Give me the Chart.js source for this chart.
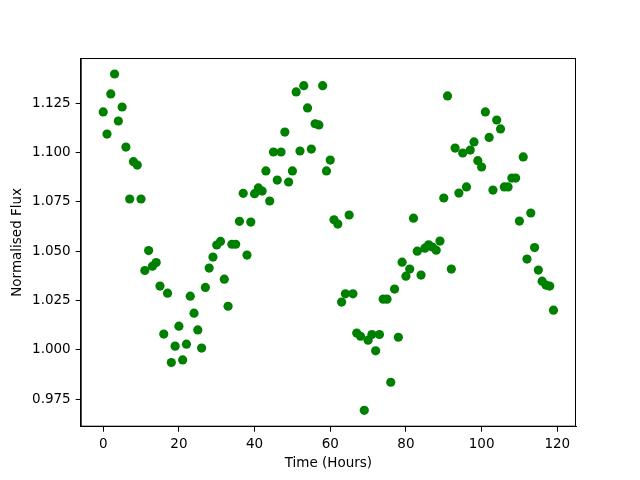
<!DOCTYPE html>
<html>
<head>
<meta charset="utf-8">
<script src="https://cdn.jsdelivr.net/npm/chart.js@4.4.1/dist/chart.umd.min.js"></script>
<style>
  html, body { margin: 0; padding: 0; background: #fff; }
  canvas { display: block; }
</style>
</head>
<body>
<canvas id="fluxChart" width="640" height="480"></canvas>
<script>
// hours since start
const hours = [
    0, 1, 2, 3, 4, 5, 6, 7, 8, 9, 10, 11, 12, 13, 14, 15, 16, 17, 18, 19,
    20, 21, 22, 23, 24, 25, 26, 27, 28, 29, 30, 31, 32, 33, 34, 35, 36, 37, 38, 39,
    40, 41, 42, 43, 44, 45, 46, 47, 48, 49, 50, 51, 52, 53, 54, 55, 56, 57, 58, 59,
    60, 61, 62, 63, 64, 65, 66, 67, 68, 69, 70, 71, 72, 73, 74, 75, 76, 77, 78, 79,
    80, 81, 82, 83, 84, 85, 86, 87, 88, 89, 90, 91, 92, 93, 94, 95, 96, 97, 98, 99,
    100, 101, 102, 103, 104, 105, 106, 107, 108, 109, 110, 111, 112, 113, 114, 115, 116, 117, 118, 119
];

// normalised flux
const flux = [
    1.1205, 1.1093, 1.1296, 1.1397, 1.1159, 1.1230, 1.1027, 1.0764, 1.0953, 1.0936,
    1.0764, 1.0402, 1.0503, 1.0424, 1.0442, 1.0323, 1.0080, 1.0287, 0.9936, 1.0019,
    1.0120, 0.9949, 1.0029, 1.0272, 1.0186, 1.0101, 1.0009, 1.0316, 1.0414, 1.0470,
    1.0531, 1.0549, 1.0358, 1.0221, 1.0535, 1.0535, 1.0651, 1.0793, 1.0480, 1.0647,
    1.0791, 1.0820, 1.0804, 1.0906, 1.0754, 1.1002, 1.0860, 1.1002, 1.1103, 1.0850,
    1.0906, 1.1306, 1.1007, 1.1338, 1.1225, 1.1017, 1.1145, 1.1139, 1.1338, 1.0906,
    1.0961, 1.0659, 1.0637, 1.0242, 1.0284, 1.0683, 1.0284, 1.0085, 1.0069, 0.9694,
    1.0049, 1.0078, 0.9995, 1.0078, 1.0257, 1.0257, 0.9836, 1.0308, 1.0064, 1.0444,
    1.0373, 1.0409, 1.0667, 1.0500, 1.0379, 1.0515, 1.0532, 1.0521, 1.0505, 1.0551,
    1.0769, 1.1286, 1.0409, 1.1022, 1.0794, 1.0997, 1.0825, 1.1012, 1.1053, 1.0958,
    1.0926, 1.1205, 1.1076, 1.0809, 1.1164, 1.1119, 1.0825, 1.0825, 1.0870, 1.0870,
    1.0652, 1.0977, 1.0460, 1.0693, 1.0518, 1.0404, 1.0348, 1.0328, 1.0323, 1.0201
];

const xTicks = [0, 20, 40, 60, 80, 100, 120];
const yTicks = [0.975, 1.000, 1.025, 1.050, 1.075, 1.100, 1.125];

const points = hours.map((h, i) => ({ x: h, y: flux[i] }));

// box around the plot area, like matplotlib's spines
const frame = {
    id: "frame",
    afterDraw(chart) {
        const a = chart.chartArea;
        const ctx = chart.ctx;
        ctx.save();
        ctx.strokeStyle = "#000";
        ctx.lineWidth = 1;
        ctx.strokeRect(a.left + 0.5, a.top + 0.5, a.right - a.left - 1, a.bottom - a.top - 1);
        ctx.restore();
    }
};

const font = { family: "DejaVu Sans", size: 13.5 };

new Chart(document.getElementById("fluxChart"), {
    type: "scatter",
    data: {
        datasets: [{
            data: points,
            backgroundColor: "#008000",
            borderColor: "#008000",
            borderWidth: 0,
            pointRadius: 4.6,
            pointHoverRadius: 4.6
        }]
    },
    options: {
        responsive: false,
        animation: false,
        devicePixelRatio: 1,
        layout: { padding: { top: 58, right: 64, left: 0, bottom: 0 } },
        plugins: {
            legend: { display: false },
            tooltip: { enabled: false }
        },
        scales: {
            x: {
                type: "linear",
                min: -5.95,
                max: 124.95,
                afterBuildTicks: (s) => { s.ticks = xTicks.map(v => ({ value: v })); },
                afterFit: (s) => { s.height = 53.3; },
                grid: { drawOnChartArea: false, drawTicks: true, tickLength: 5, color: "#000" },
                border: { color: "#000" },
                ticks: { color: "#000", font: font, padding: 5, maxRotation: 0 },
                title: {
                    display: true,
                    text: "Time (Hours)",
                    color: "#000",
                    font: font,
                    padding: { top: 0, bottom: 8 }
                }
            },
            y: {
                type: "linear",
                min: 0.9611,
                max: 1.1478,
                afterBuildTicks: (s) => { s.ticks = yTicks.map(v => ({ value: v })); },
                afterFit: (s) => { s.width = 80.7; },
                grid: { drawOnChartArea: false, drawTicks: true, tickLength: 5, color: "#000" },
                border: { color: "#000" },
                ticks: {
                    color: "#000",
                    font: font,
                    padding: 5,
                    callback: (v) => v.toFixed(3)
                },
                title: {
                    display: true,
                    text: "Normalised Flux",
                    color: "#000",
                    font: font,
                    padding: { top: 9, bottom: 0 }
                }
            }
        }
    },
    plugins: [frame]
});
</script>
</body>
</html>
